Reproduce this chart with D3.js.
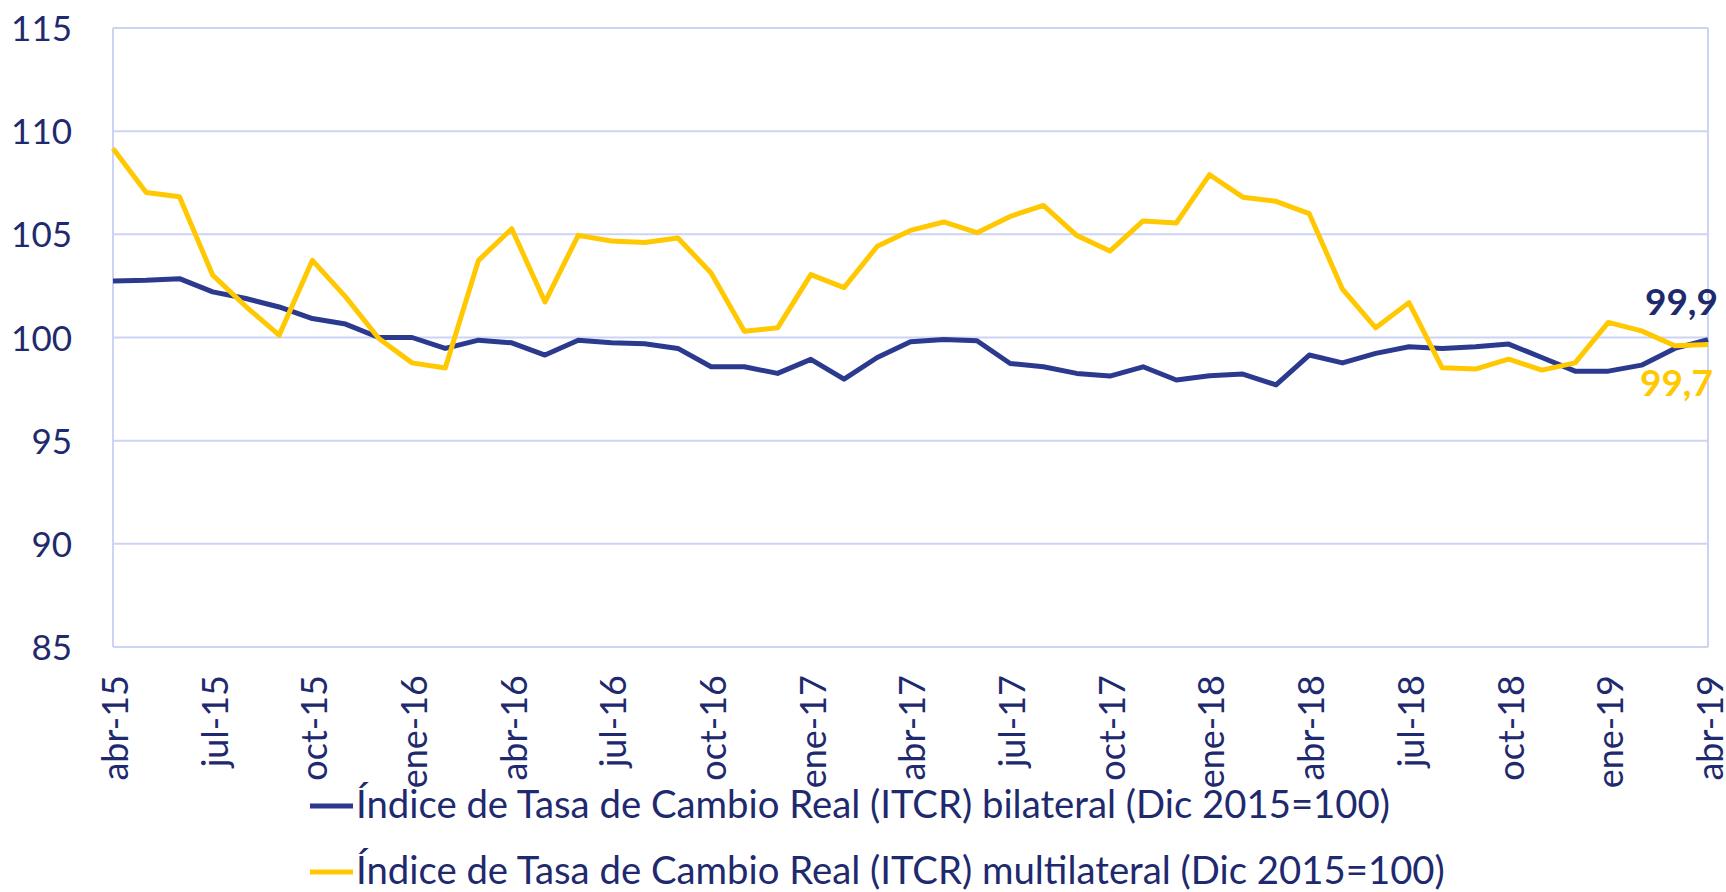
<!DOCTYPE html>
<meta charset="utf-8">
<style>
  body { margin: 0; background: #fff; }
  svg text { font-family: Lato, "Open Sans", sans-serif; fill: #1f2a6e; }
  .grid line { stroke: #cdd4f3; stroke-width: 2; }
</style>
<body>
<script src="https://d3js.org/d3.v7.min.js"></script>
<script>

  // months from abr-15 to abr-19
  var months = ["abr-15","may-15","jun-15","jul-15","ago-15","sep-15","oct-15","nov-15","dic-15",
    "ene-16","feb-16","mar-16","abr-16","may-16","jun-16","jul-16","ago-16","sep-16","oct-16","nov-16","dic-16",
    "ene-17","feb-17","mar-17","abr-17","may-17","jun-17","jul-17","ago-17","sep-17","oct-17","nov-17","dic-17",
    "ene-18","feb-18","mar-18","abr-18","may-18","jun-18","jul-18","ago-18","sep-18","oct-18","nov-18","dic-18",
    "ene-19","feb-19","mar-19","abr-19"];

  var tickLabels = ["abr-15","jul-15","oct-15","ene-16","abr-16","jul-16","oct-16","ene-17","abr-17",
    "jul-17","oct-17","ene-18","abr-18","jul-18","oct-18","ene-19","abr-19"];

  var yTicks = [85, 90, 95, 100, 105, 110, 115];

  // ITCR bilateral (Dic 2015=100)
  var bilateral = [102.74, 102.77, 102.85, 102.21, 101.89, 101.48, 100.92, 100.65, 100.0, 100.0,
    99.47, 99.87, 99.74, 99.15, 99.87, 99.74, 99.7, 99.47, 98.58, 98.58, 98.26, 98.94, 97.98, 99.03,
    99.79, 99.9, 99.84, 98.74, 98.58, 98.26, 98.13, 98.58, 97.94, 98.15, 98.23, 97.7, 99.15, 98.77,
    99.23, 99.55, 99.47, 99.55, 99.68, 99.03, 98.37, 98.37, 98.66, 99.47, 99.9];

  // ITCR multilateral (Dic 2015=100)
  var multilateral = [109.16, 107.03, 106.82, 103.02, 101.5, 100.11, 103.74, 101.97, 99.95, 98.77,
    98.52, 103.74, 105.27, 101.72, 104.95, 104.68, 104.6, 104.82, 103.13, 100.3, 100.47, 103.05, 102.42,
    104.42, 105.19, 105.6, 105.08, 105.87, 106.4, 104.95, 104.19, 105.65, 105.55, 107.89, 106.8, 106.6,
    106.0, 102.34, 100.47, 101.69, 98.53, 98.47, 98.95, 98.42, 98.77, 100.73, 100.32, 99.6, 99.66];

  var seriesNames = ["Índice de Tasa de Cambio Real (ITCR) bilateral (Dic 2015=100)",
    "Índice de Tasa de Cambio Real (ITCR) multilateral (Dic 2015=100)"];
  var endLabels = ["99,9", "99,7"];
  var colors = ["#2b3a8e", "#ffc800"];

  var W = 1726, H = 892;
  var plotLeft = 113, plotRight = 1708, plotTop = 28, plotBottom = 647;

  var svg = d3.select("body").append("svg")
    .attr("width", W)
    .attr("height", H);

  var x = d3.scalePoint().domain(months).range([plotLeft, plotRight]);
  var y = d3.scaleLinear().domain([85, 115]).range([plotBottom, plotTop]);

  // horizontal grid
  svg.append("g")
    .attr("class", "grid")
    .selectAll("line")
    .data(yTicks)
    .enter().append("line")
    .attr("x1", plotLeft).attr("x2", plotRight)
    .attr("y1", function (d) { return y(d); })
    .attr("y2", function (d) { return y(d); });

  // left and right borders
  svg.append("g")
    .attr("class", "grid")
    .selectAll("line")
    .data([plotLeft, plotRight])
    .enter().append("line")
    .attr("x1", function (d) { return d; }).attr("x2", function (d) { return d; })
    .attr("y1", plotTop).attr("y2", plotBottom);

  // y axis
  var gy = svg.append("g")
    .attr("transform", "translate(" + plotLeft + ",0)")
    .call(d3.axisLeft(y).tickValues(yTicks).tickSize(0).tickPadding(41));
  gy.select(".domain").remove();
  gy.selectAll("text")
    .style("font-size", "35px")
    .attr("fill", "#1f2a6e")
    .attr("dy", "0.36em");

  // x axis
  var gx = svg.append("g")
    .attr("transform", "translate(0," + plotBottom + ")")
    .call(d3.axisBottom(x).tickValues(tickLabels).tickSize(0));
  gx.select(".domain").remove();
  gx.selectAll("text")
    .style("font-size", "36px")
    .attr("fill", "#1f2a6e")
    .attr("text-anchor", "end")
    .attr("transform", "rotate(-90)")
    .attr("x", -28)
    .attr("y", 0)
    .attr("dy", "0.4em");

  // lines
  var line = d3.line()
    .x(function (d, i) { return x(months[i]); })
    .y(function (d) { return y(d); });

  [bilateral, multilateral].forEach(function (vals, k) {
    svg.append("path")
      .datum(vals)
      .attr("fill", "none")
      .attr("stroke", colors[k])
      .attr("stroke-width", 5)
      .attr("stroke-linejoin", "round")
      .attr("d", line);
  });

  // end labels
  var last = months.length - 1;
  svg.append("text")
    .attr("x", x(months[last]) + 10)
    .attr("y", y(bilateral[last]) - 25)
    .attr("text-anchor", "end")
    .style("font-size", "37px")
    .style("font-weight", "bold")
    .style("fill", "#1f2a6e")
    .text(endLabels[0]);

  svg.append("text")
    .attr("x", x(months[last]) + 5)
    .attr("y", y(multilateral[last]) + 51)
    .attr("text-anchor", "end")
    .style("font-size", "37px")
    .style("font-weight", "bold")
    .style("fill", colors[1])
    .text(endLabels[1]);

  // legend
  var legend = svg.append("g");
  seriesNames.forEach(function (name, k) {
    var ly = 806 + k * 66;
    legend.append("line")
      .attr("x1", 310).attr("x2", 353)
      .attr("y1", ly).attr("y2", ly)
      .attr("stroke", colors[k])
      .attr("stroke-width", 5);
    legend.append("text")
      .attr("x", 356)
      .attr("y", ly + 12)
      .style("font-size", "38.3px")
      .text(name);
  });

</script>
</body>
